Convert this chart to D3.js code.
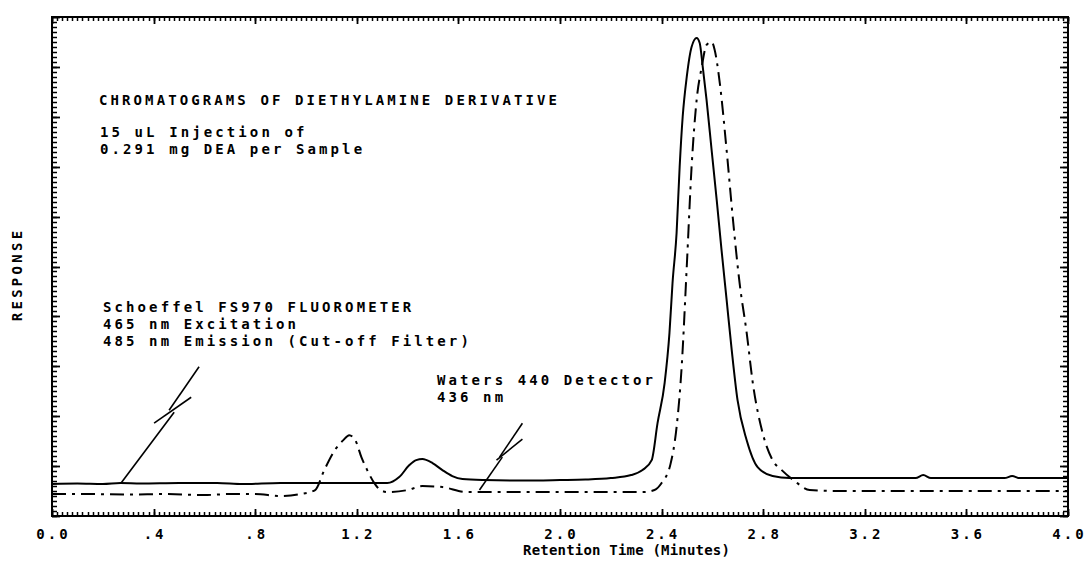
<!DOCTYPE html>
<html><head><meta charset="utf-8">
<script src="https://cdn.jsdelivr.net/npm/d3@7"></script>
<style>
body{margin:0;background:#fff}
text{font-family:"DejaVu Sans Mono",monospace;font-weight:bold;fill:#000;font-size:14px}
</style>
</head><body>
<svg id="c" width="1088" height="565"></svg>
<script>
// ---- data ----
const xTicks = [0, 0.4, 0.8, 1.2, 1.6, 2.0, 2.4, 2.8, 3.2, 3.6, 4.0];
const xTickLabels = ["0.0", ".4", ".8", "1.2", "1.6", "2.0", "2.4", "2.8", "3.2", "3.6", "4.0"];

// Schoeffel FS970 fluorometer (solid)
const solidTime = [0.00,0.10,0.20,0.27,0.35,0.50,0.65,0.75,0.90,1.00,1.15,1.32,1.367,1.407,1.434,1.458,1.498,1.537,1.576,1.616,1.70,1.85,2.00,2.10,2.20,2.28,2.325,2.361,2.384,2.412,2.431,2.443,2.459,2.471,2.483,2.499,2.518,2.538,2.550,2.562,2.577,2.597,2.617,2.636,2.656,2.676,2.699,2.735,2.778,2.837,2.904,3.10,3.40,3.43,3.46,3.75,3.78,3.81,4.00];
const solidResp = [0.64,0.65,0.64,0.66,0.65,0.66,0.66,0.64,0.66,0.66,0.66,0.66,0.78,1.02,1.12,1.14,1.06,0.92,0.80,0.74,0.72,0.71,0.72,0.73,0.76,0.82,0.92,1.12,1.86,2.67,3.67,4.67,5.67,6.99,8.00,8.80,9.40,9.58,9.48,9.00,8.34,7.33,6.33,5.33,4.33,3.33,2.32,1.52,0.98,0.80,0.76,0.76,0.76,0.82,0.76,0.76,0.80,0.76,0.76];

// Waters 440 detector, 436 nm (dash-dot)
const dashTime = [0.00,0.15,0.30,0.45,0.60,0.70,0.80,0.90,0.98,1.036,1.072,1.119,1.147,1.170,1.194,1.218,1.241,1.269,1.293,1.32,1.40,1.458,1.537,1.63,1.80,2.00,2.20,2.33,2.372,2.400,2.435,2.459,2.479,2.499,2.518,2.538,2.558,2.577,2.597,2.609,2.629,2.656,2.680,2.707,2.735,2.759,2.798,2.837,2.873,2.924,2.983,3.10,3.50,4.00];
const dashResp = [0.44,0.44,0.43,0.44,0.42,0.44,0.44,0.40,0.44,0.52,0.92,1.36,1.52,1.62,1.52,1.18,0.92,0.66,0.52,0.48,0.52,0.60,0.58,0.48,0.48,0.48,0.48,0.48,0.52,0.66,1.04,1.78,2.99,4.99,6.99,8.34,9.00,9.44,9.50,9.34,8.68,7.33,5.99,4.67,3.67,2.67,1.66,1.12,0.92,0.70,0.52,0.50,0.50,0.50];

// leader "lightning" arrows (time, response)
const leaderLeft = [[[0.272,0.66],[0.481,2.08]], [[0.461,2.12],[0.579,2.99]], [[0.402,1.86],[0.548,2.38]]];
const leaderRight = [[[1.683,0.52],[1.773,1.18]], [[1.762,1.18],[1.852,1.86]], [[1.750,1.12],[1.852,1.54]]];

const titleLines = ["CHROMATOGRAMS OF DIETHYLAMINE DERIVATIVE"];
const injectLines = ["15 uL Injection of", "0.291 mg DEA per Sample"];
const fluoroLines = ["Schoeffel FS970 FLUOROMETER", "465 nm Excitation", "485 nm Emission (Cut-off Filter)"];
const watersLines = ["Waters 440 Detector", "436 nm"];

// ---- layout ----
const L = 52, R = 1068, T = 17, B = 516;
const svg = d3.select("#c");
const x = d3.scaleLinear().domain([0, 4]).range([L, R]);
const y = d3.scaleLinear().domain([0, 10]).range([B, T]);

const xMinor = d3.range(0, 201).map(i => +(i * 0.02).toFixed(2));
const yMinor = d3.range(0, 101).map(i => +(i * 0.1).toFixed(1));
const yMajor = d3.range(0, 11);

// inward tick marks on all four sides
const tg = svg.append("g").attr("stroke", "#000");
function hTicks(vals, y0, dir, len, w) {
  tg.append("g").selectAll("line").data(vals).join("line")
    .attr("x1", d => Math.round(x(d)) + 0.5).attr("x2", d => Math.round(x(d)) + 0.5)
    .attr("y1", y0).attr("y2", y0 + dir * len).attr("stroke-width", w);
}
function vTicks(vals, x0, dir, len, w) {
  tg.append("g").selectAll("line").data(vals).join("line")
    .attr("y1", d => Math.round(y(d)) + 0.5).attr("y2", d => Math.round(y(d)) + 0.5)
    .attr("x1", x0).attr("x2", x0 + dir * len).attr("stroke-width", w);
}
hTicks(xMinor, B, -1, 4, 1.5);
hTicks(xTicks, B, -1, 7, 1.8);
hTicks(xMinor, T, 1, 4, 1.5);
hTicks(xTicks, T, 1, 7, 1.8);
vTicks(yMinor, L, 1, 5, 1.5);
vTicks(yMajor, L, 1, 8, 1.8);
vTicks(yMinor, R, -1, 5, 1.5);
vTicks(yMajor, R, -1, 8, 1.8);

// frame
svg.append("rect").attr("x", L).attr("y", T).attr("width", R - L).attr("height", B - T)
  .attr("fill", "none").attr("stroke", "#000").attr("stroke-width", 2);

// tick labels
svg.append("g").selectAll("text").data(xTicks).join("text")
  .attr("x", d => x(d) + 1.5).attr("y", 539)
  .attr("text-anchor", "middle").attr("letter-spacing", 3)
  .text((d, i) => xTickLabels[i]);

svg.append("text").attr("x", 523).attr("y", 555).attr("letter-spacing", 0.2)
  .text("Retention Time (Minutes)");

svg.append("text").attr("transform", "translate(22,276) rotate(-90)")
  .attr("text-anchor", "middle").attr("letter-spacing", 3.3).attr("dx", 1.6)
  .text("RESPONSE");

// curves
const line = d3.line().x(d => x(d[0])).y(d => y(d[1])).curve(d3.curveMonotoneX);
svg.append("path").datum(solidTime.map((t, i) => [t, solidResp[i]]))
  .attr("d", line).attr("fill", "none").attr("stroke", "#000").attr("stroke-width", 2);
svg.append("path").datum(dashTime.map((t, i) => [t, dashResp[i]]))
  .attr("d", line).attr("fill", "none").attr("stroke", "#000").attr("stroke-width", 2)
  .attr("stroke-dasharray", "14,6,3,6");

// leaders
const seg = d3.line().x(d => x(d[0])).y(d => y(d[1]));
[...leaderLeft, ...leaderRight].forEach(s => {
  svg.append("path").attr("d", seg(s)).attr("fill", "none").attr("stroke", "#000").attr("stroke-width", 1.6);
});

// annotation text
function block(lines, x0, y0) {
  lines.forEach((t, i) => svg.append("text").attr("x", x0).attr("y", y0 + i * 17)
    .attr("letter-spacing", 3.1).text(t));
}
block(titleLines, 99, 105);
block(injectLines, 100, 137);
block(fluoroLines, 103, 312);
block(watersLines, 437, 385);
</script>
</body></html>
